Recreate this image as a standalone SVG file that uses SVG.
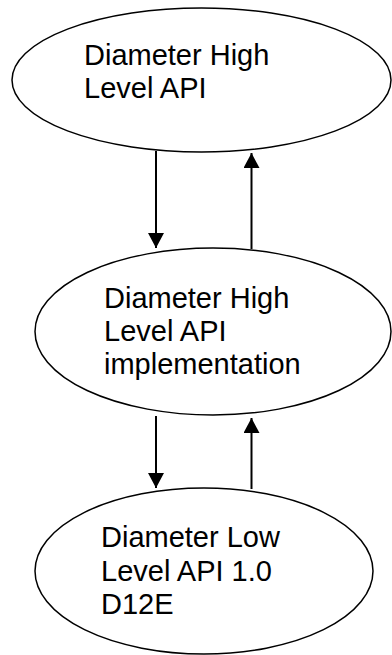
<svg xmlns="http://www.w3.org/2000/svg" width="392" height="655" viewBox="0 0 392 655">
  <style>
    .node { fill: #ffffff; stroke: #000000; stroke-width: 1.5; }
    .label { font-family: "Liberation Sans", Arial, sans-serif; font-size: 29px; fill: #000000; }
    .link { stroke: #000000; stroke-width: 2; fill: none; marker-end: url(#head); }
  </style>
  <defs>
    <marker id="head" viewBox="0 0 15 16" markerWidth="15" markerHeight="16" refX="15" refY="8" markerUnits="userSpaceOnUse" orient="auto">
      <path d="M0,0 L15,8 L0,16 Z" fill="#000000"/>
    </marker>
  </defs>
  <rect width="392" height="655" fill="#ffffff"/>

  <g id="high-level-api">
    <ellipse class="node" cx="201.5" cy="80" rx="189.5" ry="72"/>
    <text class="label" x="84" y="65">Diameter High</text>
    <text class="label" x="84" y="97.5">Level API</text>
  </g>

  <g id="high-level-impl">
    <ellipse class="node" cx="213" cy="331.5" rx="178" ry="83.5"/>
    <text class="label" x="104" y="308">Diameter High</text>
    <text class="label" x="104" y="341">Level API</text>
    <text class="label" x="104" y="374">implementation</text>
  </g>

  <g id="low-level-api">
    <ellipse class="node" cx="204" cy="571" rx="169" ry="83"/>
    <text class="label" x="101" y="547">Diameter Low</text>
    <text class="label" x="101" y="581">Level API 1.0</text>
    <text class="label" x="101" y="614">D12E</text>
  </g>

  <g id="connectors">
    <line class="link" x1="156" y1="151" x2="156" y2="248"/>
    <line class="link" x1="251.5" y1="249" x2="251.5" y2="153"/>
    <line class="link" x1="156" y1="416" x2="156" y2="488"/>
    <line class="link" x1="251.5" y1="489" x2="251.5" y2="418"/>
  </g>
</svg>
